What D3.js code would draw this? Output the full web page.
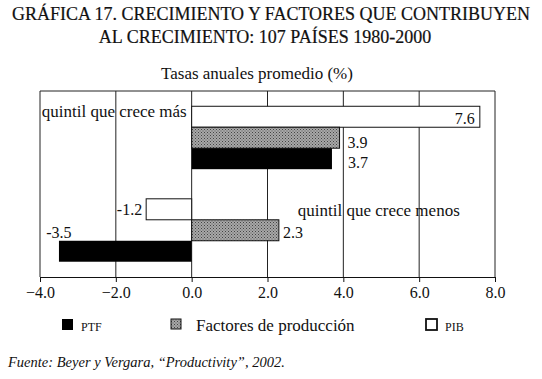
<!DOCTYPE html>
<html>
<head>
<meta charset="utf-8">
<script src="https://cdn.jsdelivr.net/npm/d3@7"></script>
<style>
  body { margin: 0; background: #fff; }
  text { font-family: "Liberation Serif", "DejaVu Serif", serif; fill: #111; }
</style>
</head>
<body>
<div id="chart"></div>
<script>
// data
const groups = ["quintil que crece más", "quintil que crece menos"];
const series = ["PIB", "Factores de producción", "PTF"];
const pib = [7.6, -1.2];
const factores = [3.9, 2.3];
const ptf = [3.7, -3.5];
const xTicks = [-4, -2, 0, 2, 4, 6, 8];
const legendOrder = ["PTF", "Factores de producción", "PIB"];

const width = 542;
const height = 379;
const plot = { left: 40, right: 495, top: 91, bottom: 277 };

const svg = d3.select("#chart").append("svg")
  .attr("width", width)
  .attr("height", height);

// stipple pattern for "Factores de producción"
const defs = svg.append("defs");
const pat = defs.append("pattern")
  .attr("id", "stipple")
  .attr("patternUnits", "userSpaceOnUse")
  .attr("width", 3)
  .attr("height", 3);
pat.append("rect").attr("width", 3).attr("height", 3).attr("fill", "#a8a8a8");
pat.append("rect").attr("x", 0).attr("y", 0).attr("width", 1).attr("height", 1).attr("fill", "#444");
pat.append("rect").attr("x", 1.5).attr("y", 1.5).attr("width", 1).attr("height", 1).attr("fill", "#555");

const fills = {
  "PIB": "#fff",
  "Factores de producción": "url(#stipple)",
  "PTF": "#000"
};
const values = {
  "PIB": pib,
  "Factores de producción": factores,
  "PTF": ptf
};

const x = d3.scaleLinear()
  .domain([-4, 8])
  .range([plot.left, plot.right]);

const y = d3.scaleBand()
  .domain(groups)
  .range([plot.top, plot.bottom])
  .paddingInner(0.32)
  .paddingOuter(0.165);

const ySub = d3.scaleBand()
  .domain(series)
  .range([0, y.bandwidth()]);

// title
svg.append("text")
  .attr("x", 271).attr("y", 20)
  .attr("text-anchor", "middle")
  .style("font-size", "18px")
  .style("stroke", "#111").style("stroke-width", 0.2)
  .text("GRÁFICA 17. CRECIMIENTO Y FACTORES QUE CONTRIBUYEN");
svg.append("text")
  .attr("x", 265).attr("y", 43)
  .attr("text-anchor", "middle")
  .style("font-size", "18px")
  .style("stroke", "#111").style("stroke-width", 0.2)
  .text("AL CRECIMIENTO: 107 PAÍSES 1980-2000");

svg.append("text")
  .attr("x", 257).attr("y", 79)
  .attr("text-anchor", "middle")
  .style("font-size", "17px")
  .text("Tasas anuales promedio (%)");

// grid lines + frame
svg.append("g")
  .selectAll("line")
  .data(xTicks)
  .join("line")
  .attr("x1", d => x(d)).attr("x2", d => x(d))
  .attr("y1", plot.top).attr("y2", plot.bottom)
  .attr("stroke", "#222")
  .attr("stroke-width", 1);

svg.append("line")
  .attr("x1", plot.left).attr("x2", plot.right)
  .attr("y1", plot.top).attr("y2", plot.top)
  .attr("stroke", "#222");

// x axis
const xAxis = svg.append("g")
  .attr("transform", `translate(0,${plot.bottom})`)
  .call(d3.axisBottom(x).tickValues(xTicks).tickFormat(d3.format(".1f")).tickSize(5).tickPadding(5));
xAxis.select(".domain").attr("stroke", "#111");
xAxis.selectAll(".tick line").attr("stroke", "#111");
xAxis.selectAll("text")
  .style("font-family", "'Liberation Serif', serif")
  .style("font-size", "16px")
  .attr("fill", "#111");

// bars
series.forEach(s => {
  svg.append("g")
    .selectAll("rect")
    .data(groups.map((g, i) => ({ group: g, value: values[s][i] })))
    .join("rect")
    .attr("x", d => x(Math.min(0, d.value)))
    .attr("width", d => Math.abs(x(d.value) - x(0)))
    .attr("y", d => y(d.group) + ySub(s))
    .attr("height", ySub.bandwidth())
    .attr("fill", fills[s])
    .attr("stroke", s === "PTF" ? "none" : "#111")
    .attr("stroke-width", 1);
});

// value labels
const bh = ySub.bandwidth();
const lab = (s, i) => y(groups[i]) + ySub(s) + bh;
const labelSize = "16px";

svg.append("text")
  .attr("x", x(pib[0]) - 5).attr("y", lab("PIB", 0) - 3)
  .attr("text-anchor", "end").style("font-size", labelSize)
  .text(pib[0].toFixed(1));
svg.append("text")
  .attr("x", x(factores[0]) + 8).attr("y", lab("Factores de producción", 0))
  .style("font-size", labelSize)
  .text(factores[0].toFixed(1));
svg.append("text")
  .attr("x", x(ptf[0]) + 16).attr("y", lab("PTF", 0) - 1)
  .style("font-size", labelSize)
  .text(ptf[0].toFixed(1));
svg.append("text")
  .attr("x", x(pib[1]) - 4).attr("y", lab("PIB", 1) - 5)
  .attr("text-anchor", "end").style("font-size", labelSize)
  .text(pib[1].toFixed(1));
svg.append("text")
  .attr("x", x(factores[1]) + 4).attr("y", lab("Factores de producción", 1) - 3)
  .style("font-size", labelSize)
  .text(factores[1].toFixed(1));
svg.append("text")
  .attr("x", x(ptf[1])).attr("y", lab("Factores de producción", 1) - 3)
  .attr("text-anchor", "middle").style("font-size", labelSize)
  .text(ptf[1].toFixed(1));

// group labels
svg.append("text")
  .attr("x", x(0) - 5).attr("y", y(groups[0]) + ySub("PIB") + bh - 10)
  .attr("text-anchor", "end").style("font-size", "17px")
  .text(groups[0]);
svg.append("text")
  .attr("x", x(2.8)).attr("y", y(groups[1]) + ySub("PIB") + bh - 4)
  .style("font-size", "17px")
  .text(groups[1]);

// legend
const legendX = [62, 171, 426];
const legend = svg.append("g");
legendOrder.forEach((s, i) => {
  const big = s === "Factores de producción";
  const sz = big ? 10 : 11;
  legend.append("rect")
    .attr("x", legendX[i]).attr("y", 319)
    .attr("width", sz).attr("height", sz)
    .attr("fill", fills[s])
    .attr("stroke", s === "PTF" ? "none" : "#111")
    .attr("stroke-width", s === "PIB" ? 1.8 : 1);
  legend.append("text")
    .attr("x", legendX[i] + (big ? 25 : 19)).attr("y", 331)
    .style("font-size", big ? "17px" : "12px")
    .text(s);
});

// source
svg.append("text")
  .attr("x", 8).attr("y", 367)
  .style("font-size", "14.5px")
  .style("font-style", "italic")
  .text("Fuente: Beyer y Vergara, “Productivity”, 2002.");
</script>
</body>
</html>
